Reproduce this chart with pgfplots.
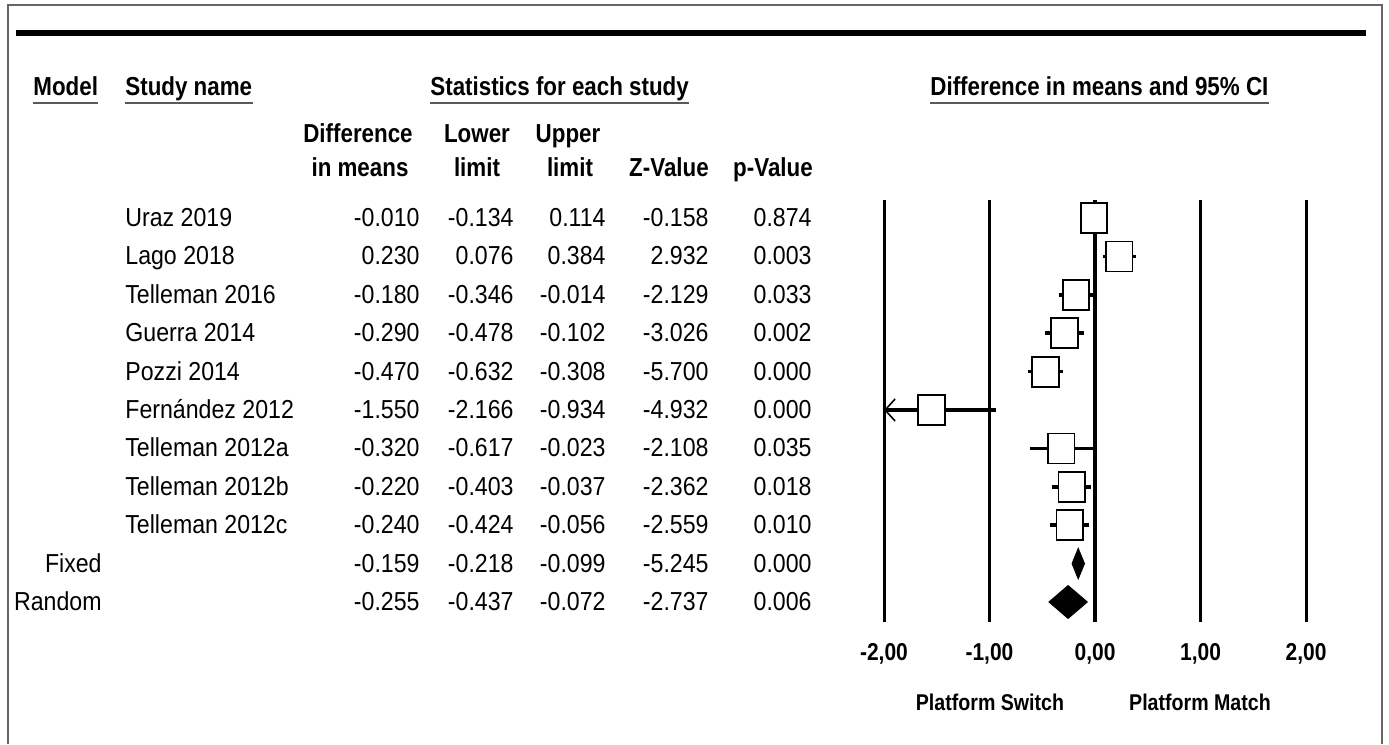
\documentclass[border=0pt]{standalone}
\usepackage{fontspec}
\setmainfont{Liberation Sans}[FakeStretch=0.89,BoldFeatures={FakeStretch=0.86}]
\usepackage{pgfplots}
\pgfplotsset{compat=1.18}
\usepackage{pgfplotstable}
\usetikzlibrary{arrows.meta}
\newcommand\tf{\fontsize{13pt}{15pt}\selectfont}
\newcommand\smf{\fontsize{11.4pt}{12pt}\selectfont\bfseries}
\newcommand\tkf{\fontsize{12.2pt}{13pt}\selectfont\bfseries}
\pgfplotstableread{
i est lo hi
0 -0.010 -0.134 0.114
1 0.230 0.076 0.384
2 -0.180 -0.346 -0.014
3 -0.290 -0.478 -0.102
4 -0.470 -0.632 -0.308
5 -1.550 -2.166 -0.934
6 -0.320 -0.617 -0.023
7 -0.220 -0.403 -0.037
8 -0.240 -0.424 -0.056
}\studies
\begin{document}
\begin{tikzpicture}
\begin{scope}[x=0.5pt,y=-0.5pt,yshift=372pt]
  \path[fill=white] (0,0) rectangle (1389,744);
  \draw[line width=1pt,black!60] (8,744) -- (8,5) -- (1382,5) -- (1382,744);
  \draw[line width=2.6pt,black] (16,33) -- (1366,33);
  % header titles
  \begin{scope}[every node/.style={inner sep=0pt,font=\tf\bfseries}]
    \node[anchor=base west] (m) at (33,96) {Model};
    \node[anchor=base west] (s) at (125,96) {Study name};
    \node[anchor=base west] (t) at (430,96) {Statistics for each study};
    \node[anchor=base west] (c) at (930,96) {Difference in means and 95\% CI};
    \foreach \n in {m,s,t,c}{
      \draw[line width=1.3pt,black!65] ([yshift=-3.6pt]\n.base west) -- ([yshift=-3.6pt]\n.base east);
    }
    \node[anchor=base] at (358,142.5) {Difference};
    \node[anchor=base] at (360,176.5) {in means};
    \node[anchor=base] at (477,142.5) {Lower};
    \node[anchor=base] at (477,176.5) {limit};
    \node[anchor=base] at (568,142.5) {Upper};
    \node[anchor=base] at (570,176.5) {limit};
    \node[anchor=base] at (669,176.5) {Z-Value};
    \node[anchor=base] at (773,176.5) {p-Value};
  \end{scope}
  \begin{scope}[every node/.style={inner sep=0pt,font=\tf}]
    \foreach \i/\n/\a/\b/\c/\d/\e [evaluate=\i as \yy using 226.5+38.4*\i] in {
      0/Uraz 2019/-0.010/-0.134/0.114/-0.158/0.874,
      1/Lago 2018/0.230/0.076/0.384/2.932/0.003,
      2/Telleman 2016/-0.180/-0.346/-0.014/-2.129/0.033,
      3/Guerra 2014/-0.290/-0.478/-0.102/-3.026/0.002,
      4/Pozzi 2014/-0.470/-0.632/-0.308/-5.700/0.000,
      5/Fernández 2012/-1.550/-2.166/-0.934/-4.932/0.000,
      6/Telleman 2012a/-0.320/-0.617/-0.023/-2.108/0.035,
      7/Telleman 2012b/-0.220/-0.403/-0.037/-2.362/0.018,
      8/Telleman 2012c/-0.240/-0.424/-0.056/-2.559/0.010,
      9/ /-0.159/-0.218/-0.099/-5.245/0.000,
      10/ /-0.255/-0.437/-0.072/-2.737/0.006}{
      \node[anchor=base west] at (125,\yy) {\n};
      \node[anchor=base east] at (420,\yy) {\a};
      \node[anchor=base east] at (514,\yy) {\b};
      \node[anchor=base east] at (606,\yy) {\c};
      \node[anchor=base east] at (709,\yy) {\d};
      \node[anchor=base east] at (812,\yy) {\e};
    }
    \node[anchor=base east] at (102,572.1) {Fixed};
    \node[anchor=base east] at (102,610.5) {Random};
  \end{scope}
  \node[inner sep=0pt,anchor=base,font=\smf] at (990,711) {Platform Switch};
  \node[inner sep=0pt,anchor=base,font=\smf] at (1200,711) {Platform Match};
\end{scope}
\begin{axis}[
  at={(442pt,61pt)}, anchor=south west,
  scale only axis, width=211pt, height=211pt,
  xmin=-2, xmax=2, ymin=-0.469, ymax=10.521, y dir=reverse,
  clip=false,
  axis line style={draw=none},
  major tick style={draw=none},
  ytick=\empty,
  xtick={-2,-1,0,1,2},
  xticklabels={{-2,00},{-1,00},{0,00},{1,00},{2,00}},
  xticklabel style={font=\tkf, anchor=base, yshift=-19pt},
  xmajorgrids,
  grid style={black, line width=1.5pt},
]
\addplot[black, line width=2pt] coordinates {(0,-0.469) (0,10.521)};
\addplot[black, line width=1.8pt] coordinates {(-0.134,0) (0.114,0)};
\addplot[black, line width=1.8pt] coordinates {(0.076,1) (0.384,1)};
\addplot[black, line width=1.8pt] coordinates {(-0.346,2) (-0.014,2)};
\addplot[black, line width=1.8pt] coordinates {(-0.478,3) (-0.102,3)};
\addplot[black, line width=1.8pt] coordinates {(-0.632,4) (-0.308,4)};
\addplot[black, line width=1.8pt, {Straight Barb[line width=0.8pt,length=5pt,width=11pt]}-] coordinates {(-2,5) (-0.934,5)};
\addplot[black, line width=1.8pt] coordinates {(-0.617,6) (-0.023,6)};
\addplot[black, line width=1.8pt] coordinates {(-0.403,7) (-0.037,7)};
\addplot[black, line width=1.8pt] coordinates {(-0.424,8) (-0.056,8)};
\addplot[only marks, mark=square*, mark size=7.5pt,
  mark options={fill=white, draw=black, line width=0.9pt, xscale=0.88}]
  table[x=est, y=i] {\studies};
\addplot[fill=black, draw=black] coordinates {(-0.218,9) (-0.159,8.6) (-0.099,9) (-0.159,9.4)} -- cycle;
\addplot[fill=black, draw=black] coordinates {(-0.437,10) (-0.255,9.57) (-0.072,10) (-0.255,10.43)} -- cycle;
\end{axis}
\end{tikzpicture}
\end{document}
